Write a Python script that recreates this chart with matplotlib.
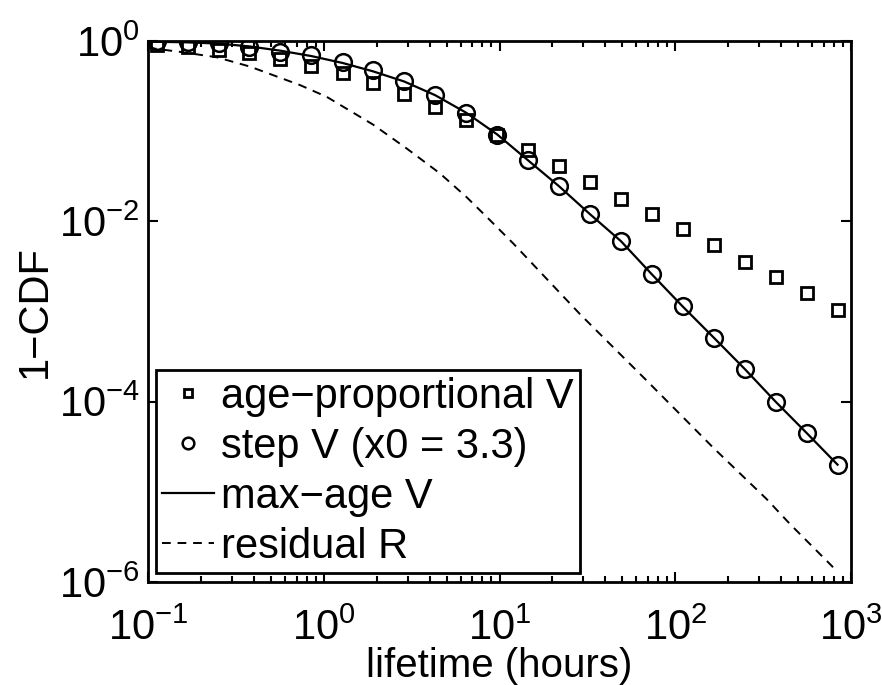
import matplotlib
matplotlib.use("Agg")
import matplotlib.pyplot as plt
from matplotlib.ticker import LogLocator, NullLocator

plt.rcParams['font.family'] = ['Liberation Sans', 'DejaVu Sans']
plt.rcParams['mathtext.fontset'] = 'custom'
plt.rcParams['mathtext.rm'] = 'Liberation Sans'
plt.rcParams['mathtext.it'] = 'Liberation Sans:italic'
plt.rcParams['mathtext.default'] = 'rm'

# lifetimes (hours) where the simulated points sit
t_pts = [0.112, 0.168, 0.252, 0.378, 0.567, 0.85, 1.28, 1.91, 2.87, 4.31, 6.46, 9.69,
         14.5, 21.8, 32.7, 49.0, 73.6, 110, 166, 248, 372, 559, 838]

# age-proportional V (squares)
age_prop = [0.903, 0.851, 0.794, 0.73, 0.627, 0.522, 0.440, 0.344, 0.259, 0.183, 0.132, 0.0903,
            0.0615, 0.0411, 0.0274, 0.0179, 0.0120, 0.0083, 0.0054, 0.00353, 0.0024, 0.0016, 0.00104]

# step V, x0 = 3.3 (circles)
step_v = [0.99, 0.965, 0.94, 0.86, 0.76, 0.70, 0.58, 0.476, 0.36, 0.251, 0.157, 0.0903,
          0.0476, 0.0245, 0.0120, 0.00604, 0.00258, 0.00114, 0.000510, 0.000231, 0.0001, 4.49e-5, 2.0e-5]

# max-age V (solid line)
maxage_t = [0.1, 0.112, 0.168, 0.252, 0.378, 0.567, 0.85, 1.28, 1.91, 2.87, 4.31, 6.46, 9.69,
            14.5, 21.8, 32.7, 49.0, 73.6, 110, 166, 248, 372, 559, 838]
maxage_v = [0.985, 0.98, 0.965, 0.935, 0.87, 0.78, 0.68, 0.57, 0.46, 0.355, 0.25, 0.16, 0.092,
            0.0476, 0.0245, 0.0120, 0.00604, 0.00258, 0.00114, 0.000510, 0.000231, 0.0001, 4.49e-5, 2.0e-5]

# residual R (dashed line)
resid_t = [0.1, 0.15, 0.246, 0.38, 0.733, 1.04, 1.91, 2.97, 4.58, 6.5, 8.45, 12.0, 28.7, 68.8,
           164, 331, 450, 838]
resid_v = [0.84, 0.76, 0.66, 0.52, 0.324, 0.240, 0.118, 0.064, 0.034, 0.0185, 0.0112, 0.00565,
           9.34e-4, 1.71e-4, 3.1e-5, 8.3e-6, 4.38e-6, 1.3e-6]

fig = plt.figure(figsize=(8.82, 6.85), dpi=100)
ax = fig.add_axes([0.1678, 0.1504, 0.7971, 0.7898])

ax.plot(t_pts, age_prop, linestyle='none', marker='s', ms=9, mfc='none', mec='black',
        mew=2.0, label='age\u2212proportional V', zorder=3)
ax.plot(t_pts, step_v, linestyle='none', marker='o', ms=12, mfc='none', mec='black',
        mew=1.8, label='step V (x0 = 3.3)', zorder=3)
ax.plot(maxage_t, maxage_v, color='black', lw=1.6, label='max\u2212age V')
ax.plot(resid_t, resid_v, color='black', lw=1.4, dashes=(4.5, 3.5), label='residual R')

ax.set_xscale('log')
ax.set_yscale('log')
ax.set_xlim(0.1, 1000)
ax.set_ylim(1e-6, 1)

ax.xaxis.set_major_locator(LogLocator(base=10, numticks=10))
ax.xaxis.set_minor_locator(LogLocator(base=10, subs=range(2, 10), numticks=20))
ax.set_yticks([1e-6, 1e-4, 1e-2, 1])
ax.yaxis.set_minor_locator(NullLocator())

ax.tick_params(which='both', direction='in', top=True, right=True, width=1.5)
ax.tick_params(which='major', length=7, labelsize=30)
ax.tick_params(which='minor', length=4)
ax.tick_params(axis='x', which='major', pad=19)
ax.tick_params(axis='y', which='major', pad=6)
for sp in ax.spines.values():
    sp.set_linewidth(2.0)

ax.set_xlabel('lifetime (hours)', fontsize=29, labelpad=-1)
ax.set_ylabel('1\u2212CDF', fontsize=30, labelpad=3)

leg = ax.legend(loc='lower left', bbox_to_anchor=(0.011, 0.017), borderaxespad=0,
                fontsize=30, frameon=True, fancybox=False, edgecolor='black',
                framealpha=1, handlelength=1.25, handletextpad=0.17, labelspacing=0.24,
                borderpad=0.15, markerscale=0.7)
leg.get_frame().set_linewidth(2.0)

fig.savefig('out.png', dpi=100)
